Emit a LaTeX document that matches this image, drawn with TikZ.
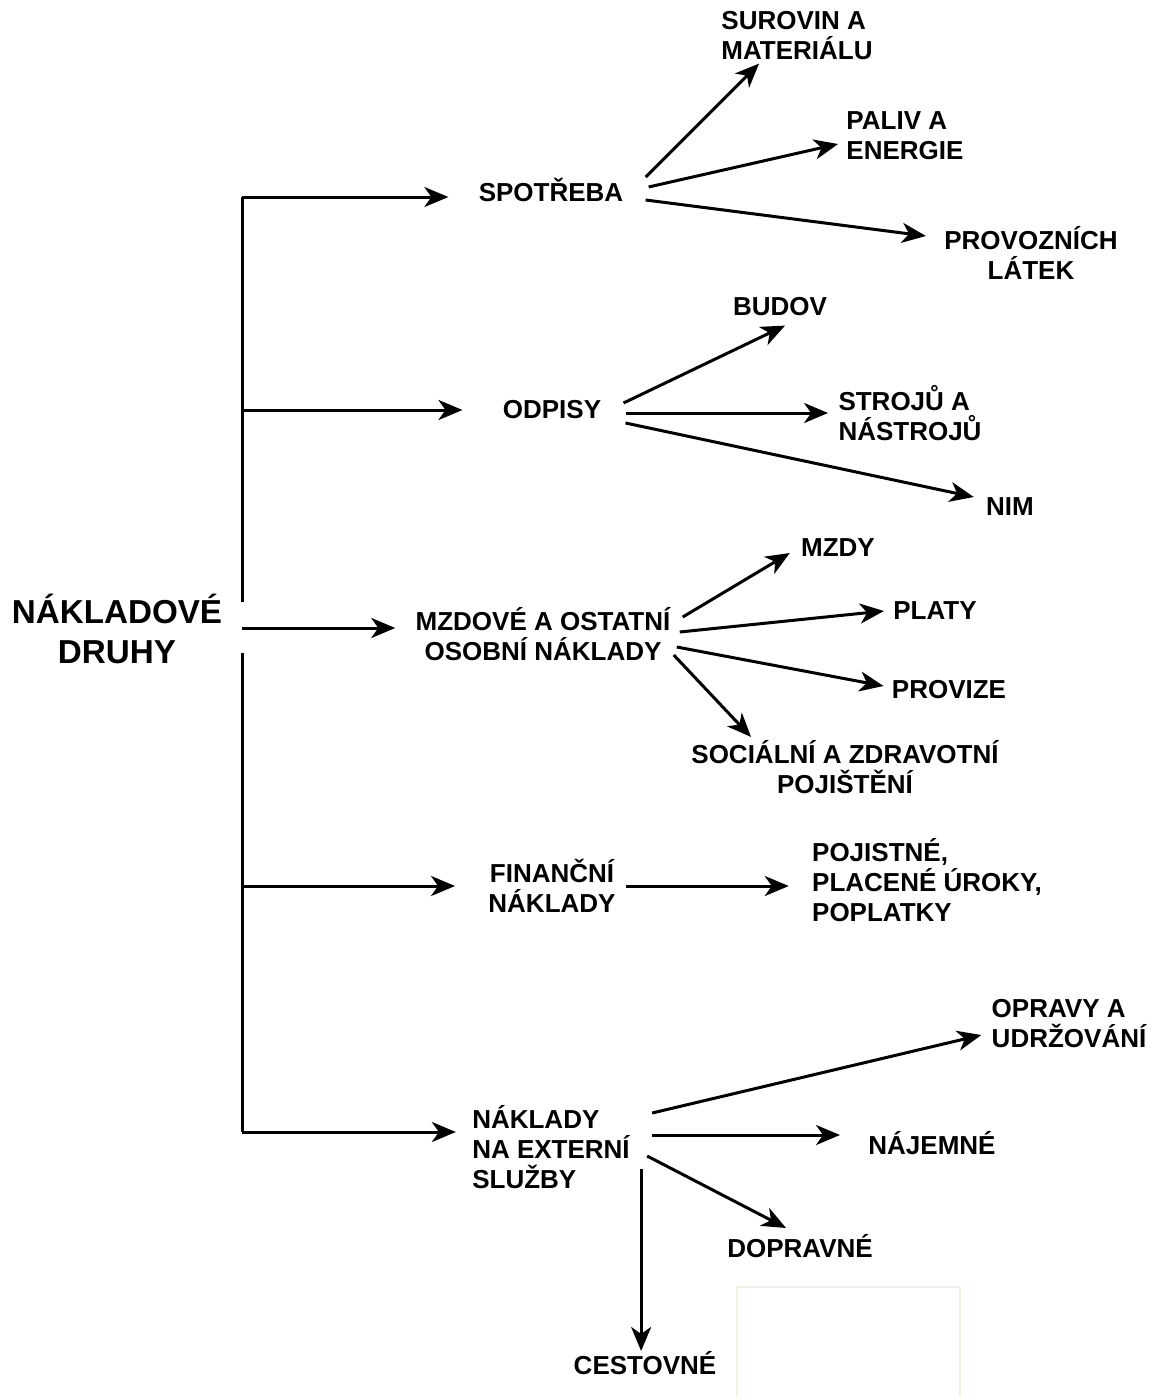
\documentclass[tikz,border=0pt]{standalone}
\usepackage{fontspec}
\setmainfont{Liberation Sans}
\usetikzlibrary{arrows.meta}

\definecolor{faint}{RGB}{244,241,226}

\tikzset{
  lbl/.style={font=\fontsize{13}{15}\selectfont\bfseries,inner sep=0pt},
  rootlbl/.style={font=\fontsize{16.6}{20}\selectfont\bfseries,inner sep=0pt,align=center},
  arr/.style={-{Stealth[length=12pt,width=10pt,inset=3.5pt]},line width=1.5pt},
  trunk/.style={line width=1.5pt}
}

\begin{document}
\begin{tikzpicture}[x=0.5pt,y=-0.5pt]
\useasboundingbox (0,0) rectangle (1158,1397);

% Nodes
\node[rootlbl] (root) at (117,629) {NÁKLADOVÉ\\DRUHY};

\node[lbl] (spot) at (551,190) {SPOTŘEBA};
\node[lbl] (odp) at (552,410) {ODPISY};
\node[lbl,align=center] (mzd) at (543,634) {MZDOVÉ A OSTATNÍ\\OSOBNÍ NÁKLADY};
\node[lbl,align=center] (fin) at (552,886) {FINANČNÍ\\NÁKLADY};
\node[lbl,align=left] (ext) at (551,1147) {NÁKLADY\\NA EXTERNÍ\\SLUŽBY};

\node[lbl,align=left] (sur) at (797,36) {SUROVIN A\\MATERIÁLU};
\node[lbl,align=left] (pal) at (905,136) {PALIV A\\ENERGIE};
\node[lbl,align=center] (prov) at (1031,253) {PROVOZNÍCH\\LÁTEK};

\node[lbl] (bud) at (780,307) {BUDOV};
\node[lbl,align=left] (str) at (910,413) {STROJŮ A\\NÁSTROJŮ};
\node[lbl] (nim) at (1010,507) {NIM};

\node[lbl] (mzdy) at (838,548) {MZDY};
\node[lbl] (plat) at (935,611) {PLATY};
\node[lbl] (proz) at (949,690) {PROVIZE};
\node[lbl,align=center] (soc) at (845,767) {SOCIÁLNÍ A ZDRAVOTNÍ\\POJIŠTĚNÍ};

\node[lbl,align=left] (poj) at (927,880) {POJISTNÉ,\\PLACENÉ ÚROKY,\\POPLATKY};

\node[lbl,align=left] (opr) at (1069,1024) {OPRAVY A\\UDRŽOVÁNÍ};
\node[lbl] (naj) at (932,1143) {NÁJEMNÉ};
\node[lbl] (dop) at (800,1246) {DOPRAVNÉ};
\node[lbl] (ces) at (645,1363) {CESTOVNÉ};

% Trunk
\coordinate (b1) at (242,197);
\coordinate (b2) at (242,410);
\coordinate (b3) at (242,628);
\coordinate (b4) at (242,886);
\coordinate (b5) at (242,1132);
\coordinate (gapTop) at (242,602);
\coordinate (gapBot) at (242,653);

\draw[trunk] (b1) -- (gapTop);
\draw[trunk] (gapBot) -- (b5);

\draw[arr,shorten >=15pt] (b1) -- (b1 -| spot.west);
\draw[arr,shorten >=20pt] (b2) -- (b2 -| odp.west);
\draw[arr,shorten >=10pt] (b3) -- (b3 -| mzd.west);
\draw[arr,shorten >=16.5pt] (b4) -- (b4 -| fin.west);
\draw[arr,shorten >=8pt] (b5) -- (b5 -| ext.west);

% Spotreba
\draw[arr] ([xshift=11pt,yshift=6.5pt]spot.east) -- ([xshift=19pt,yshift=-1.5pt]sur.south west);
\draw[arr] ([xshift=12.5pt,yshift=1.5pt]spot.east) -- ([xshift=-4pt,yshift=-4pt]pal.west);
\draw[arr] ([xshift=11pt,yshift=-5pt]spot.east) -- ([xshift=-9pt,yshift=8.5pt]prov.west);

% Odpisy
\draw[arr] ([xshift=11pt,yshift=3.5pt]odp.east) -- ([xshift=2.5pt,yshift=-4.5pt]bud.south);
\draw[arr,shorten >=5pt] ([xshift=12pt,yshift=-1.5pt]odp.east) coordinate (s0) -- (s0 -| str.west);
\draw[arr] ([xshift=12pt,yshift=-6.5pt]odp.east) -- ([xshift=-6pt,yshift=5pt]nim.west);

% Mzdove a ostatni osobni naklady
\draw[arr] ([xshift=6pt,yshift=8.5pt]mzd.east) -- ([xshift=-5.5pt,yshift=-2.5pt]mzdy.west);
\draw[arr] ([xshift=4.5pt,yshift=1pt]mzd.east) -- ([xshift=-4.5pt]plat.west);
\draw[arr] ([xshift=3pt,yshift=-6.5pt]mzd.east) -- ([xshift=-4pt,yshift=2pt]proz.west);
\draw[arr] ([xshift=1.5pt,yshift=-10.5pt]mzd.east) -- ([xshift=30pt,yshift=1.5pt]soc.north west);

% Financni naklady
\draw[arr,shorten >=11.5pt] ([xshift=5pt]fin.east) coordinate (f0) -- (f0 -| poj.west);

% Naklady na externi sluzby
\draw[arr] ([xshift=11pt,yshift=17pt]ext.east) -- ([xshift=-5pt,yshift=-5.5pt]opr.west);
\draw[arr,shorten >=14pt] ([xshift=11pt,yshift=6pt]ext.east) coordinate (n0) -- (n0 -| naj.west);
\draw[arr] ([xshift=8.5pt,yshift=-4.5pt]ext.east) -- ([xshift=-7pt,yshift=3pt]dop.north);
\draw[arr] ([xshift=5.5pt,yshift=-11pt]ext.east) coordinate (c0) -- (c0 |- ces.north);

% faint scan box
\draw[faint,line width=0.8pt] (737,1397) |- (960,1287) -- (960,1397);

\end{tikzpicture}
\end{document}
